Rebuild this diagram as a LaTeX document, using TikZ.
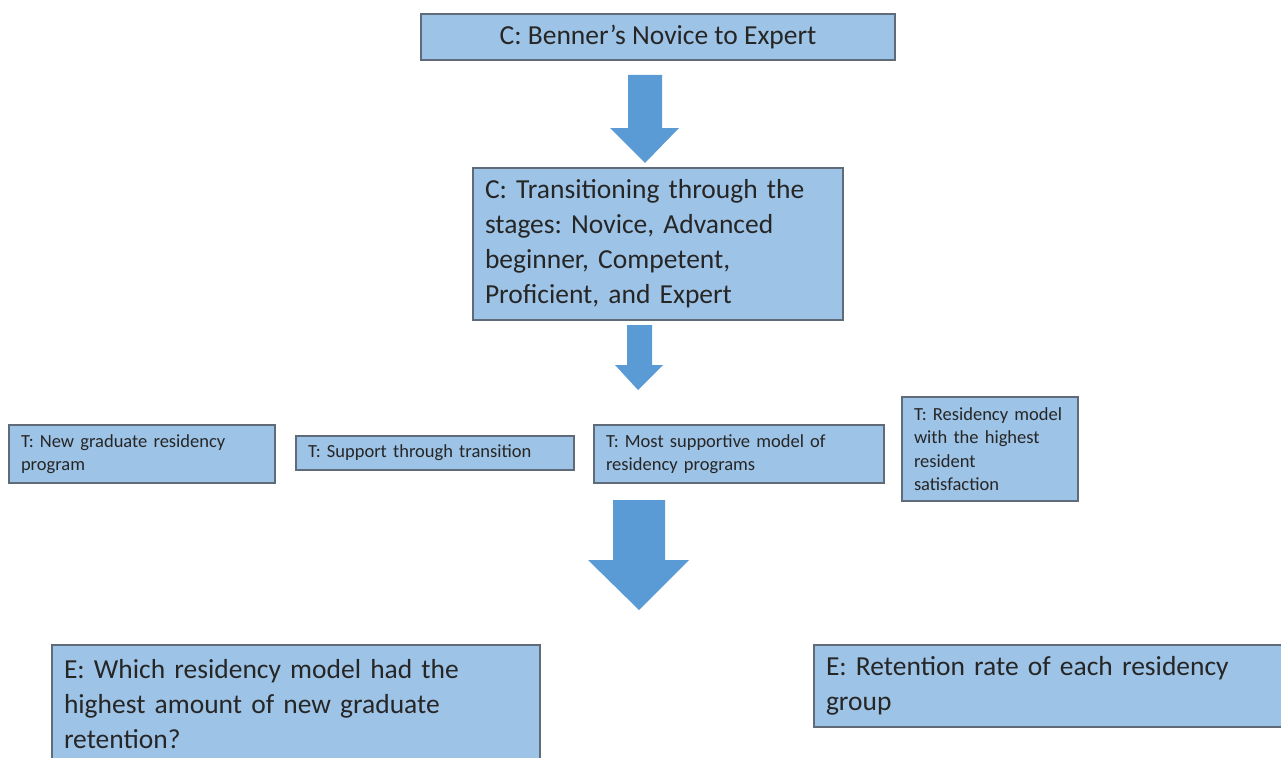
\documentclass[tikz,border=0pt]{standalone}
\usepackage{fontspec}
\setmainfont{Carlito}
\usepackage{xcolor}
\definecolor{boxfill}{HTML}{9DC3E6}
\definecolor{boxline}{HTML}{5F6B78}
\definecolor{arrowfill}{HTML}{5B9BD5}
\definecolor{txt}{HTML}{262626}
\frenchspacing
\tikzset{
  cbox/.style={draw=boxline, fill=boxfill, line width=1.5pt, text=txt, inner xsep=12pt, inner ysep=0pt, font=\fontsize{27.5}{35}\selectfont},
  tbox/.style={draw=boxline, fill=boxfill, line width=1.5pt, text=txt, inner xsep=12pt, inner ysep=0pt, align=left, font=\fontsize{18.5}{23.3}\selectfont},
  blockarrow/.style={fill=arrowfill}
}

\begin{document}
\begin{tikzpicture}[x=1pt, y=-1pt]
\useasboundingbox (0,0) rectangle (1281,757);
\clip (0,0) rectangle (1281,757);
\node[cbox, minimum width=474, minimum height=46] (c1) at (658,37) {C: Benner's Novice to Expert};
\fill[blockarrow] (628,75) -- (662,75) -- (662,128) -- (679,128) -- (645,163) -- (610,128) -- (628,128) -- cycle;
\node[cbox, minimum width=370, minimum height=152, text width=346, align=left] (c2) at (658,244) {C: Transitioning through the\\stages: Novice, Advanced\\beginner, Competent,\\Proficient, and Expert};
\fill[blockarrow] (627,325) -- (652,325) -- (652,365) -- (663,365) -- (638,390) -- (615,365) -- (627,365) -- cycle;
% T boxes
\node[tbox, minimum width=266, minimum height=58, text width=242] (t1) at (142,454) {T: New graduate residency\\program};
\node[tbox, minimum width=278, minimum height=34, text width=254] (t2) at (435,453) {T: Support through transition};
\node[tbox, minimum width=290, minimum height=58, text width=266] (t3) at (739,454) {T: Most supportive model of\\residency programs};
\node[tbox, minimum width=176, minimum height=104, text width=152] (t4) at (990,449) {T: Residency model\\with the highest\\resident\\satisfaction};
\fill[blockarrow] (613,500) -- (665,500) -- (665,560) -- (689,560) -- (639,610) -- (588,560) -- (613,560) -- cycle;
% E boxes
\node[cbox, minimum width=488, minimum height=118, text width=464, align=left] (e1) at (296,704) {E: Which residency model had the\\highest amount of new graduate\\retention?};
\node[cbox, minimum width=480, minimum height=82, text width=456, align=left] (e2) at (1054,686) {E: Retention rate of each residency\\group};
\end{tikzpicture}
\end{document}
